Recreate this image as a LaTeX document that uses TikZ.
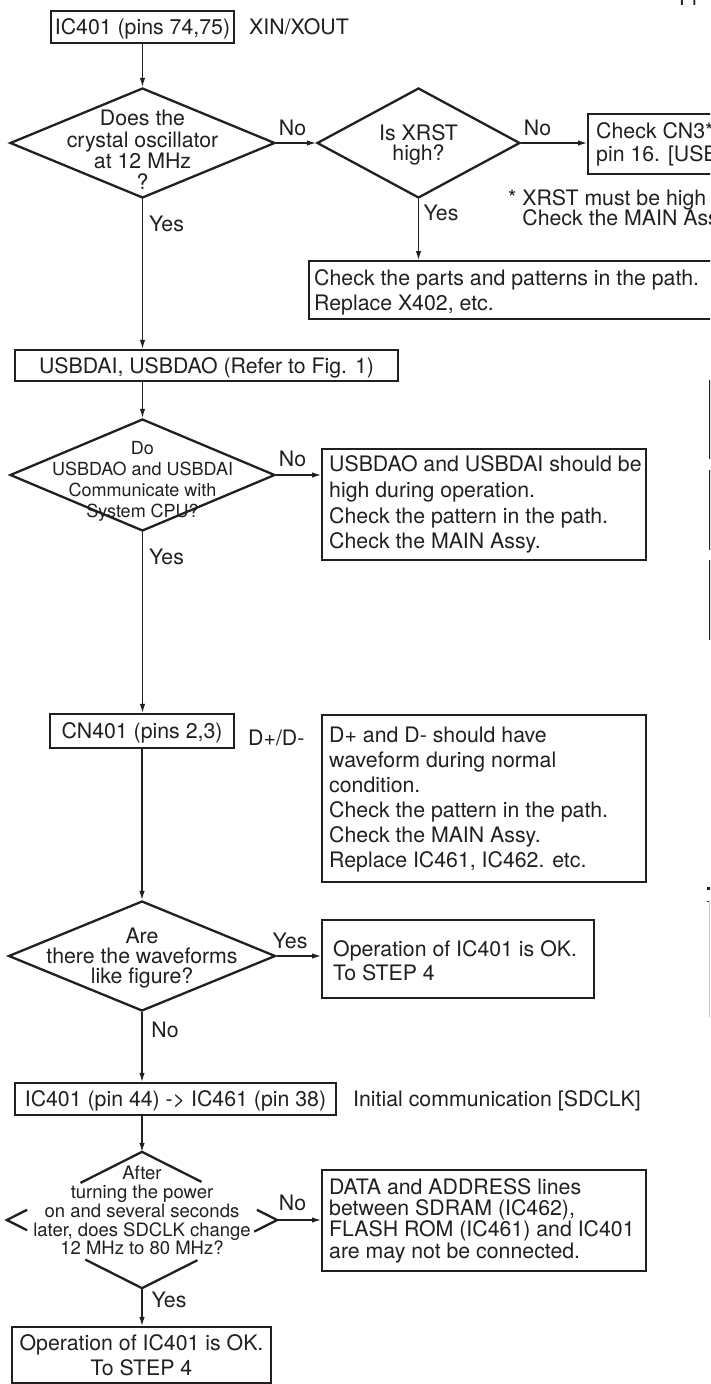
\documentclass[tikz,border=0pt]{standalone}
\usepackage{fontspec}
\setmainfont{TeX Gyre Heros}
\usetikzlibrary{shapes.geometric,arrows.meta,calc}
\definecolor{ink}{RGB}{35,31,32}
\newcommand\sT{\rule[-\dimexpr(\baselineskip-\fontcharht\font`H)/2\relax]{0pt}{\baselineskip}}
\lineskiplimit=-50pt
\tikzset{
  txt/.style={inner sep=0pt, text=ink, font={\fontsize{21.3}{#1}\selectfont\lineskiplimit=-50pt}},
  txt/.default=25,
  txtf/.style 2 args={inner sep=0pt, text=ink, font={\fontsize{#1}{#2}\selectfont\lineskiplimit=-50pt}},
  box/.style={draw=ink, line width=2.3pt, rectangle, inner sep=0pt},
  dia/.style={draw=ink, line width=2.3pt, diamond, inner sep=0pt},
  conn/.style={draw=ink, line width=1.2pt},
  arr/.style={conn, -{Latex[length=9pt,width=5.5pt]}},
}
\begin{document}
\begin{tikzpicture}[x=1pt,y=-1pt]
\useasboundingbox (0,0) rectangle (710,1384);
\fill[white] (0,0) rectangle (710,1384);
\clip (0,0) rectangle (710,1384);

% partial items at right edge
\node[txt, anchor=base west] (fi) at (679,5) {Fi};
\node[box, line width=2pt, minimum width=100, minimum height=77, anchor=north west] (r1) at (708.5,380) {};
\node[box, line width=2pt, minimum width=100, minimum height=78, anchor=north west] (r2) at (708.5,470) {};
\node[box, line width=2pt, minimum width=100, minimum height=78, anchor=north west] (r3) at (708.5,560) {};
\fill[ink] (707,887) rectangle (710,889.5);
\draw[ink, line width=1pt] (706.5,901) -- (710,901);
\draw[ink!25, line width=0.8pt] (709.5,901) -- (709.5,1017);

% top
\node[box, txt, minimum width=183, minimum height=32] (b1) at (142.5,27) {\sT IC401 (pins 74,75)};
\node[txt, anchor=west] (l1) at (249,27) {\sT XIN/XOUT};

\node[dia, minimum width=265, minimum height=110] (d1) at (142.5,143) {};
\node[txt=21.3, align=center] (d1t) at (142.5,150) {\sT Does the\\\sT crystal oscillator\\\sT at 12 MHz\\\sT ?};

\node[dia, minimum width=203, minimum height=110] (d2) at (418.5,143) {};
\node[txt=20, align=center] (d2t) at (418.5,143.5) {\sT Is XRST\\\sT high?};

\node[box, minimum width=200, minimum height=60, anchor=north west] (b2) at (587,113) {};
\node[txt=23, align=left, anchor=west] (b2t) at ([xshift=9pt,yshift=1.5pt]b2.west) {\sT Check CN3*\\\sT pin 16. [USB};

\node[txt=20, align=left, anchor=west] (fn) at (508,208) {\sT * XRST must be high\\\sT\hspace*{14.2pt}Check the MAIN Ass};

\node[box, minimum width=420, minimum height=58, anchor=north west] (b3) at (308,260) {};
\node[txt, align=left, anchor=west] (b3t) at ([xshift=6pt]b3.west) {\sT Check the parts and patterns in the path.\\\sT Replace X402, etc.};

\node[box, txt, minimum width=383, minimum height=31] (b4) at (206.5,365.5) {\sT USBDAI, USBDAO (Refer to Fig. 1)};

\node[dia, minimum width=265, minimum height=112] (d3) at (142.5,475) {};
\node[txtf={18}{21}, align=center] (d3t) at (142.5,479.5) {\sT Do\\\sT USBDAO and USBDAI\\\sT Communicate with\\\sT System CPU?};

\node[box, minimum width=324, minimum height=111, anchor=north west] (b5) at (321,448) {};
\node[txt=25.7, align=left, anchor=west] (b5t) at ([xshift=8pt,yshift=2pt]b5.west) {\sT USBDAO and USBDAI should be\\\sT high during operation.\\\sT Check the pattern in the path.\\\sT Check the MAIN Assy.};

\node[box, txt, minimum width=184, minimum height=34] (b6) at (142,731) {\sT CN401 (pins 2,3)};
\node[txt, anchor=west] (l2) at (248,738) {\sT D+/D-};

\node[box, minimum width=324, minimum height=167, anchor=north west] (b7) at (321,714) {};
\node[txt=25, align=left, anchor=west] (b7t) at ([xshift=8pt,yshift=1pt]b7.west) {\sT D+ and D- should have\\\sT waveform during normal\\\sT condition.\\\sT Check the pattern in the path.\\\sT Check the MAIN Assy.\\\sT Replace IC461, IC462. etc.};

\node[dia, minimum width=267, minimum height=110] (d4) at (142,956) {};
\node[txt=20, align=center] (d4t) at (142,957) {\sT Are\\\sT there the waveforms\\\sT like figure?};

\node[box, minimum width=272, minimum height=78, anchor=north west] (b8) at (321,919) {};
\node[txt=24, align=left, anchor=west] (b8t) at ([xshift=12pt,yshift=-2pt]b8.west) {\sT Operation of IC401 is OK.\\\sT To STEP 4};

\node[box, txt, minimum width=321, minimum height=32] (b9) at (175.5,1099) {\sT IC401 (pin 44) -> IC461 (pin 38)};
\node[txt, anchor=west] (l3) at (353,1099) {\sT Initial communication [SDCLK]};

\node[dia, draw=none, minimum width=268, minimum height=134] (d5) at (142,1220) {};
\node[txtf={18.5}{18.75}, align=center] (d5t) at (142,1210.5) {\sT After\\\sT turning the power\\\sT on and several seconds\\\sT later, does SDCLK change\\\sT 12 MHz to 80 MHz?};
\draw[ink, line width=2.3pt, line join=miter]
  ($(d5.west)!0.15!(d5.north)$) -- (d5.west) -- ($(d5.west)!0.15!(d5.south)$)
  ($(d5.west)!0.545!(d5.north)$) -- (d5.north) -- ($(d5.east)!0.56!(d5.north)$)
  ($(d5.east)!0.15!(d5.north)$) -- (d5.east) -- ($(d5.east)!0.17!(d5.south)$)
  ($(d5.west)!0.58!(d5.south)$) -- (d5.south) -- ($(d5.east)!0.59!(d5.south)$);

\node[box, minimum width=324, minimum height=101, anchor=north west] (b10) at (321,1169) {};
\node[txt=21.3, align=left, anchor=west] (b10t) at ([xshift=8pt,yshift=1.5pt]b10.west) {\sT DATA and ADDRESS lines\\\sT between SDRAM (IC462),\\\sT FLASH ROM (IC461) and IC401\\\sT are may not be connected.};

\node[box, txt, align=center, minimum width=259, minimum height=56] (b11) at (141.5,1355) {\sT Operation of IC401 is OK.\\\sT To STEP 4};

% labels
\node[txt] (n1) at (292.5,128) {\sT No};
\node[txt] (n2) at (537.5,128) {\sT No};
\node[txt] (y2) at (441,212.5) {\sT Yes};
\node[txt] (y1) at (166.5,224) {\sT Yes};
\node[txt] (n3) at (292.5,459) {\sT No};
\node[txt] (y3) at (166.5,557) {\sT Yes};
\node[txt] (y4) at (290,941) {\sT Yes};
\node[txt] (n4) at (165,1030) {\sT No};
\node[txt] (n5) at (292.5,1203) {\sT No};
\node[txt] (y5) at (169,1300) {\sT Yes};

% connectors
\draw[arr] (b1.south -| d1.north) -- (d1.north);
\draw[arr] (d1.east) -- (d2.west);
\draw[arr] (d2.east) -- (d2.east -| b2.west);
\draw[arr] (d2.south) -- (d2.south |- b3.north);
\draw[arr] (d1.south) -- (d1.south |- b4.north);
\draw[arr] (d3.north |- b4.south) -- (d3.north);
\draw[arr] (d3.east) -- (d3.east -| b5.west);
\draw[arr] (d3.south) -- (d3.south |- b6.north);
\draw[arr] (d4.north |- b6.south) -- (d4.north);
\draw[arr] (d4.east) -- (d4.east -| b8.west);
\draw[arr] (d4.south) -- (d4.south |- b9.north);
\draw[arr] (d5.north |- b9.south) -- (d5.north);
\draw[arr] (d5.east) -- (d5.east -| b10.west);
\draw[arr] (d5.south) -- (d5.south |- b11.north);
\end{tikzpicture}
\end{document}
